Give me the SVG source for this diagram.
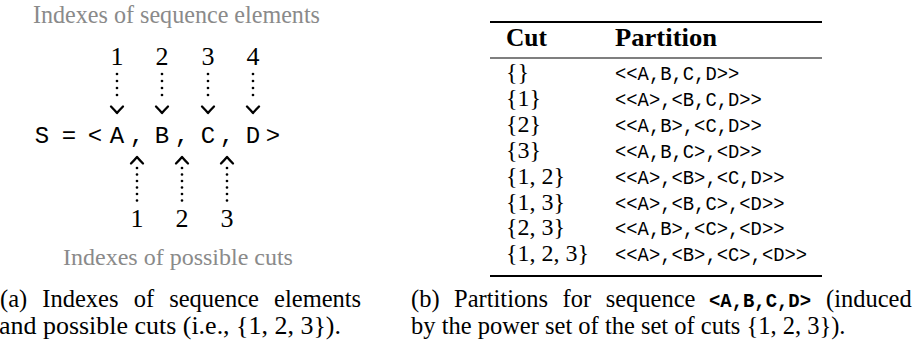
<svg xmlns="http://www.w3.org/2000/svg" width="914" height="356" viewBox="0 0 914 356">
  <style>
    .serif { font-family: "Liberation Serif", "Times New Roman", serif; }
    .mono { font-family: "Liberation Mono", "Courier New", monospace; }
    .gray { fill: #8a8a8a; }
    .ink { fill: #000; }
    .dots { stroke: #000; stroke-width: 2.7; stroke-linecap: round; fill: none; }
    .head { stroke: #000; stroke-width: 2.3; fill: none; stroke-linecap: round; stroke-linejoin: round; }
    .rule-thick { stroke: #000; stroke-width: 2; }
    .rule-thin { stroke: #000; stroke-width: 1.2; }
    .num { font-size: 26px; text-anchor: middle; }
    .seq { font-size: 24px; text-anchor: middle; }
    .cell { font-size: 24px; }
    .part { font-size: 21px; }
    .cap { font-size: 24.5px; }
  </style>
  <defs>
    <!-- chevron arrow tips, drawn with the tip at the origin -->
    <path id="chev-down" class="head" d="M -6 -6.5 Q -1.8 -2.2 0 0 Q 1.8 -2.2 6 -6.5"/>
    <path id="chev-up" class="head" d="M -6 6.5 Q -1.8 2.2 0 0 Q 1.8 2.2 6 6.5"/>
  </defs>

  <!-- (a) sequence with element indexes and cut indexes -->
  <g id="label-elements">
    <text class="serif gray" x="33" y="23" font-size="24.5" textLength="287" lengthAdjust="spacingAndGlyphs">Indexes of sequence elements</text>
  </g>
  <g id="element-indexes" class="serif ink">
    <text class="num" x="117" y="65">1</text>
    <text class="num" x="162" y="65">2</text>
    <text class="num" x="208" y="65">3</text>
    <text class="num" x="253" y="65">4</text>
  </g>
  <g id="sequence" class="mono ink">
    <text class="seq" x="42" y="143">S</text>
    <text class="seq" x="69" y="143">=</text>
    <text class="seq" x="95" y="143">&lt;</text>
    <text class="seq" x="117" y="143">A</text>
    <text class="seq" x="137" y="143">,</text>
    <text class="seq" x="162" y="143">B</text>
    <text class="seq" x="182" y="143">,</text>
    <text class="seq" x="208" y="143">C</text>
    <text class="seq" x="227" y="143">,</text>
    <text class="seq" x="253" y="143">D</text>
    <text class="seq" x="273" y="143">&gt;</text>
  </g>
  <g id="cut-indexes" class="serif ink">
    <text class="num" x="137" y="227">1</text>
    <text class="num" x="182" y="227">2</text>
    <text class="num" x="227" y="227">3</text>
  </g>
  <g id="label-cuts">
    <text class="serif gray" x="63" y="265" font-size="24">Indexes of possible cuts</text>
  </g>

  <!-- dotted pointers -->
  <g id="connectors">
    <g stroke-dasharray="0 7">
      <line class="dots" x1="117" y1="74" x2="117" y2="102"/>
      <line class="dots" x1="162" y1="74" x2="162" y2="102"/>
      <line class="dots" x1="208" y1="74" x2="208" y2="102"/>
      <line class="dots" x1="253" y1="74" x2="253" y2="102"/>
    </g>
    <use href="#chev-down" x="117" y="113"/>
    <use href="#chev-down" x="162" y="113"/>
    <use href="#chev-down" x="208" y="113"/>
    <use href="#chev-down" x="253" y="113"/>
    <g stroke-dasharray="0 6.5">
      <line class="dots" x1="137" y1="168" x2="137" y2="201"/>
      <line class="dots" x1="182" y1="168" x2="182" y2="201"/>
      <line class="dots" x1="227" y1="168" x2="227" y2="201"/>
    </g>
    <use href="#chev-up" x="137" y="157"/>
    <use href="#chev-up" x="182" y="157"/>
    <use href="#chev-up" x="227" y="157"/>
  </g>

  <!-- caption (a) -->
  <g id="caption-a" class="serif ink">
    <text class="cap" x="0" y="307" word-spacing="9">(a) Indexes of sequence elements</text>
    <text class="cap" x="-1" y="334" textLength="342" lengthAdjust="spacingAndGlyphs">and possible cuts (i.e., {1, 2, 3}).</text>
  </g>

  <!-- (b) table of partitions -->
  <g id="table">
    <line class="rule-thick" x1="490" y1="22" x2="822" y2="22"/>
    <text class="serif ink" x="506" y="46" font-size="24.5" font-weight="bold" textLength="41" lengthAdjust="spacingAndGlyphs">Cut</text>
    <text class="serif ink" x="615" y="46" font-size="24.5" font-weight="bold" textLength="102" lengthAdjust="spacingAndGlyphs">Partition</text>
    <line class="rule-thin" x1="490" y1="58" x2="822" y2="58"/>

    <g class="serif ink cell">
      <text x="506" y="80">{}</text>
      <text x="506" y="105.9">{1}</text>
      <text x="506" y="131.8">{2}</text>
      <text x="506" y="157.7">{3}</text>
      <text x="506" y="183.6">{1, 2}</text>
      <text x="506" y="209.5">{1, 3}</text>
      <text x="506" y="235.4">{2, 3}</text>
      <text x="506" y="261.3">{1, 2, 3}</text>
    </g>
    <g class="mono ink part">
      <text x="615" y="80" textLength="124.3" lengthAdjust="spacingAndGlyphs">&lt;&lt;A,B,C,D&gt;&gt;</text>
      <text x="615" y="105.9" textLength="146.9" lengthAdjust="spacingAndGlyphs">&lt;&lt;A&gt;,&lt;B,C,D&gt;&gt;</text>
      <text x="615" y="131.8" textLength="146.9" lengthAdjust="spacingAndGlyphs">&lt;&lt;A,B&gt;,&lt;C,D&gt;&gt;</text>
      <text x="615" y="157.7" textLength="146.9" lengthAdjust="spacingAndGlyphs">&lt;&lt;A,B,C&gt;,&lt;D&gt;&gt;</text>
      <text x="615" y="183.6" textLength="169.5" lengthAdjust="spacingAndGlyphs">&lt;&lt;A&gt;,&lt;B&gt;,&lt;C,D&gt;&gt;</text>
      <text x="615" y="209.5" textLength="169.5" lengthAdjust="spacingAndGlyphs">&lt;&lt;A&gt;,&lt;B,C&gt;,&lt;D&gt;&gt;</text>
      <text x="615" y="235.4" textLength="169.5" lengthAdjust="spacingAndGlyphs">&lt;&lt;A,B&gt;,&lt;C&gt;,&lt;D&gt;&gt;</text>
      <text x="615" y="261.3" textLength="192.1" lengthAdjust="spacingAndGlyphs">&lt;&lt;A&gt;,&lt;B&gt;,&lt;C&gt;,&lt;D&gt;&gt;</text>
    </g>
    <line class="rule-thick" x1="490" y1="276" x2="822" y2="276"/>
  </g>

  <!-- caption (b) -->
  <g id="caption-b" class="ink">
    <text class="serif cap" x="411" y="307" word-spacing="8.4">(b) Partitions for sequence</text>
    <text class="mono" x="709" y="307" font-size="20" font-weight="bold" textLength="102" lengthAdjust="spacingAndGlyphs">&lt;A,B,C,D&gt;</text>
    <text class="serif cap" x="826" y="307">(induced</text>
    <text class="serif cap" x="411" y="334">by the power set of the set of cuts {1, 2, 3}).</text>
  </g>
</svg>
